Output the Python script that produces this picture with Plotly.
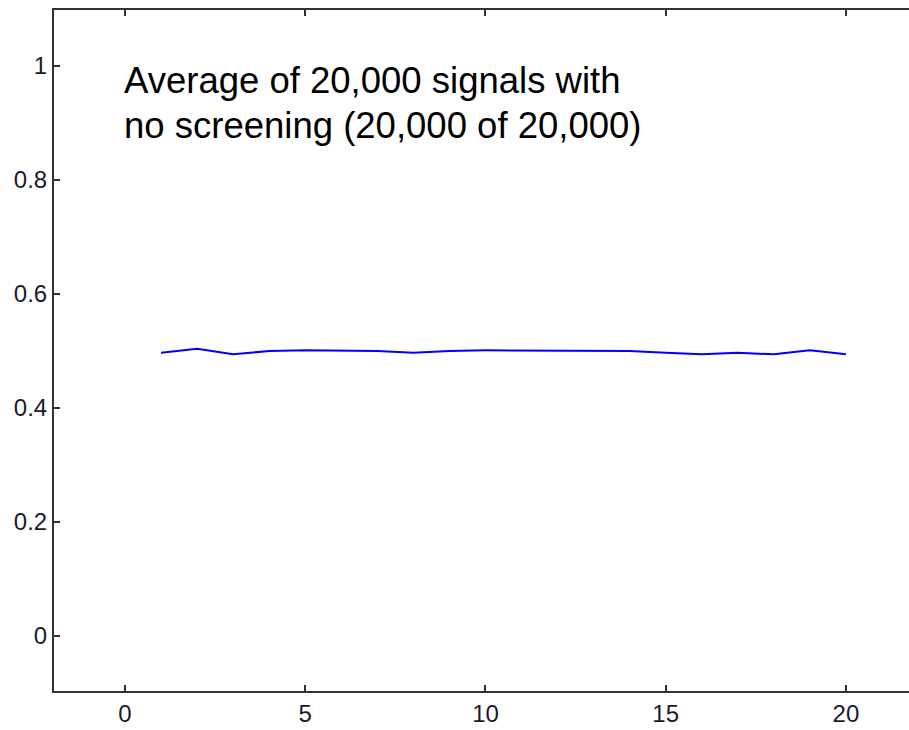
import plotly.graph_objects as go

# Data
x_vals = list(range(1, 21))
avg_signal = [0.497, 0.504, 0.494, 0.500, 0.501, 0.501, 0.500, 0.497, 0.500, 0.501,
              0.501, 0.501, 0.501, 0.500, 0.497, 0.494, 0.497, 0.494, 0.501, 0.494]
x_ticks = [0, 5, 10, 15, 20]
y_ticks = [0, 0.2, 0.4, 0.6, 0.8, 1]
y_tick_labels = ["0", "0.2", "0.4", "0.6", "0.8", "1"]
label_line1 = "Average of 20,000 signals with"
label_line2 = "no screening (20,000 of 20,000)"

FONT = "Arial, 'Liberation Sans', sans-serif"

fig = go.Figure()
fig.add_trace(go.Scatter(x=x_vals, y=avg_signal, mode="lines",
                         line=dict(color="#0000ff", width=2), showlegend=False))

fig.add_annotation(x=0, y=0.975, xref="x", yref="y", text=label_line1, showarrow=False,
                   xanchor="left", yanchor="middle", xshift=-3,
                   font=dict(family=FONT, size=36.5, color="#000000"))
fig.add_annotation(x=0, y=0.895, xref="x", yref="y", text=label_line2, showarrow=False,
                   xanchor="left", yanchor="middle", xshift=-3,
                   font=dict(family=FONT, size=36.5, color="#000000"))

fig.update_layout(
    width=909, height=730,
    margin=dict(l=54, r=0, t=10, b=39),
    paper_bgcolor="white", plot_bgcolor="white",
    font=dict(family=FONT, size=24, color="#1a1a2a"),
)
fig.update_xaxes(range=[-1.97, 21.75], tickvals=x_ticks, ticktext=[str(v) for v in x_ticks],
                 showgrid=False, zeroline=False, showline=True, linecolor="#333333",
                 linewidth=2, mirror="ticks", ticks="inside", ticklen=6, tickwidth=2,
                 tickcolor="#333333")
fig.update_yaxes(range=[-0.0965, 1.098], tickvals=y_ticks, ticktext=y_tick_labels,
                 showgrid=False, zeroline=False, showline=True, linecolor="#333333",
                 linewidth=2, mirror=False, ticks="inside", ticklen=6, tickwidth=2,
                 tickcolor="#333333")

fig.write_html("out.html", config={"displayModeBar": False},
               post_script="document.body.style.margin='0';document.body.style.overflow='hidden';")
